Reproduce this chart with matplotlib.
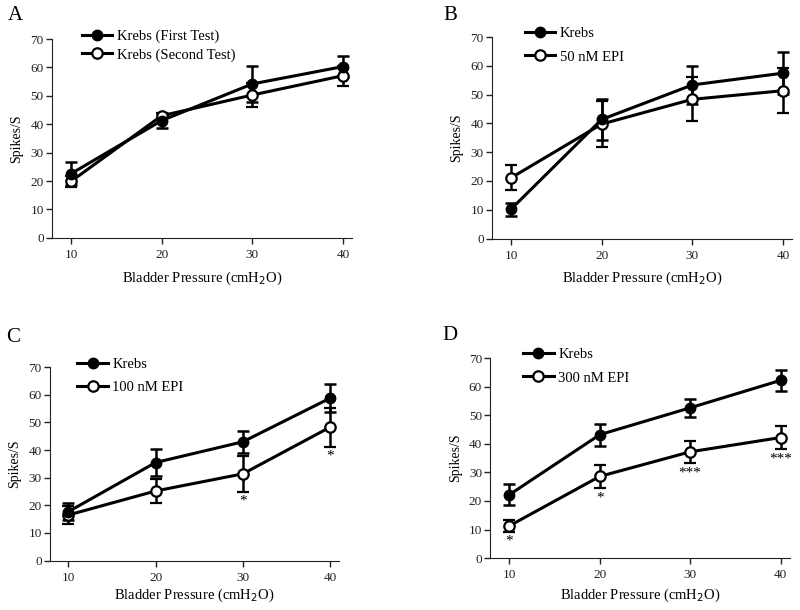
import matplotlib
matplotlib.use("Agg")
import matplotlib.pyplot as plt
from matplotlib.lines import Line2D

plt.rcParams['font.family'] = ['Liberation Serif', 'DejaVu Serif']

pressure = [10, 20, 30, 40]

# Panel A
a_first = [22.6, 41.3, 54.2, 60.3]
a_first_err = [4.1, 2.7, 6.3, 3.8]
a_second = [19.9, 43.0, 50.3, 57.1]
a_second_err = [2.0, 1.0, 4.2, 3.5]

# Panel B
b_krebs = [10.2, 41.4, 53.4, 57.5]
b_krebs_err = [2.2, 7.2, 6.5, 7.3]
b_epi = [21.1, 39.8, 48.4, 51.4]
b_epi_err = [4.4, 8.0, 7.7, 7.9]

# Panel C
c_krebs = [17.7, 35.5, 43.0, 58.8]
c_krebs_err = [3.0, 5.0, 4.0, 5.0]
c_epi = [16.5, 25.2, 31.4, 48.3]
c_epi_err = [3.3, 4.5, 6.4, 7.0]
c_stars = ["", "", "*", "*"]

# Panel D
d_krebs = [22.2, 43.2, 52.6, 62.2]
d_krebs_err = [3.7, 3.8, 3.2, 3.7]
d_epi = [11.3, 28.6, 37.2, 42.2]
d_epi_err = [2.0, 4.0, 3.9, 4.1]
d_stars = ["*", "*", "***", "***"]

panels = [
    dict(letter="A", rect=[0.065, 0.610, 0.375, 0.326],
         s1=a_first, e1=a_first_err, s2=a_second, e2=a_second_err,
         l1="Krebs (First Test)", l2="Krebs (Second Test)", stars=None,
         leg=(0.08, 1.075), spacing=0.32, letter_xy=(15, 15), xpad=6),
    dict(letter="B", rect=[0.615, 0.609, 0.375, 0.330],
         s1=b_krebs, e1=b_krebs_err, s2=b_epi, e2=b_epi_err,
         l1="Krebs", l2="50 nM EPI", stars=None,
         leg=(0.09, 1.08), spacing=0.7, letter_xy=(450, 15), xpad=6),
    dict(letter="C", rect=[0.0625, 0.081, 0.361, 0.317],
         s1=c_krebs, e1=c_krebs_err, s2=c_epi, e2=c_epi_err,
         l1="Krebs", l2="100 nM EPI", stars=c_stars,
         leg=(0.075, 1.08), spacing=0.7, letter_xy=(13, 338), xpad=2),
    dict(letter="D", rect=[0.613, 0.085, 0.374, 0.328],
         s1=d_krebs, e1=d_krebs_err, s2=d_epi, e2=d_epi_err,
         l1="Krebs", l2="300 nM EPI", stars=d_stars,
         leg=(0.09, 1.08), spacing=0.7, letter_xy=(450, 336), xpad=4),
]

W, H = 800, 610
fig = plt.figure(figsize=(8, 6.1), dpi=100)
axis_color = "#222222"

for p in panels:
    ax = fig.add_axes(p["rect"])
    common = dict(color="black", lw=2.2, ms=7.5, capsize=4, elinewidth=1.8,
                  capthick=1.8, clip_on=False, zorder=3)
    ax.errorbar(pressure, p["s2"], yerr=p["e2"], fmt="-o", mfc="white",
                mec="black", mew=1.6, **common)
    ax.errorbar(pressure, p["s1"], yerr=p["e1"], fmt="-o", mfc="black",
                mec="black", **common)
    if p["stars"]:
        for x, y, e, s in zip(pressure, p["s2"], p["e2"], p["stars"]):
            if s:
                ax.text(x, y - e - 1.2, s, ha="center", va="top", fontsize=11)
    ax.set_xlim(7.9, 41)
    ax.set_ylim(0, 70)
    ax.set_xticks(pressure)
    ax.set_yticks(range(0, 71, 10))
    ax.spines["top"].set_visible(False)
    ax.spines["right"].set_visible(False)
    for s in ("left", "bottom"):
        ax.spines[s].set_color(axis_color)
    ax.tick_params(labelsize=9.5, length=4, width=1, color=axis_color,
                   labelcolor="#222222")
    ax.tick_params(axis="y", pad=2)
    ax.tick_params(axis="x", pad=4)
    ax.set_xlabel("Bladder Pressure (cmH$_2$O)", fontsize=10.5, labelpad=p["xpad"])
    ax.set_ylabel("Spikes/S", fontsize=10, labelpad=5)
    handles = [
        Line2D([], [], color="black", lw=2.2, marker="o", ms=7.5, mfc="black", mec="black"),
        Line2D([], [], color="black", lw=2.2, marker="o", ms=7.5, mfc="white", mec="black", mew=1.6),
    ]
    ax.legend(handles, [p["l1"], p["l2"]], loc="upper left",
              bbox_to_anchor=p["leg"], frameon=False, fontsize=10.5,
              handlelength=2.1, handletextpad=0.3, labelspacing=p["spacing"],
              borderaxespad=0, numpoints=1)
    lx, ly = p["letter_xy"]
    fig.text(lx / W, 1 - ly / H, p["letter"], fontsize=15, ha="center", va="center")

fig.savefig("out.png", dpi=100)
